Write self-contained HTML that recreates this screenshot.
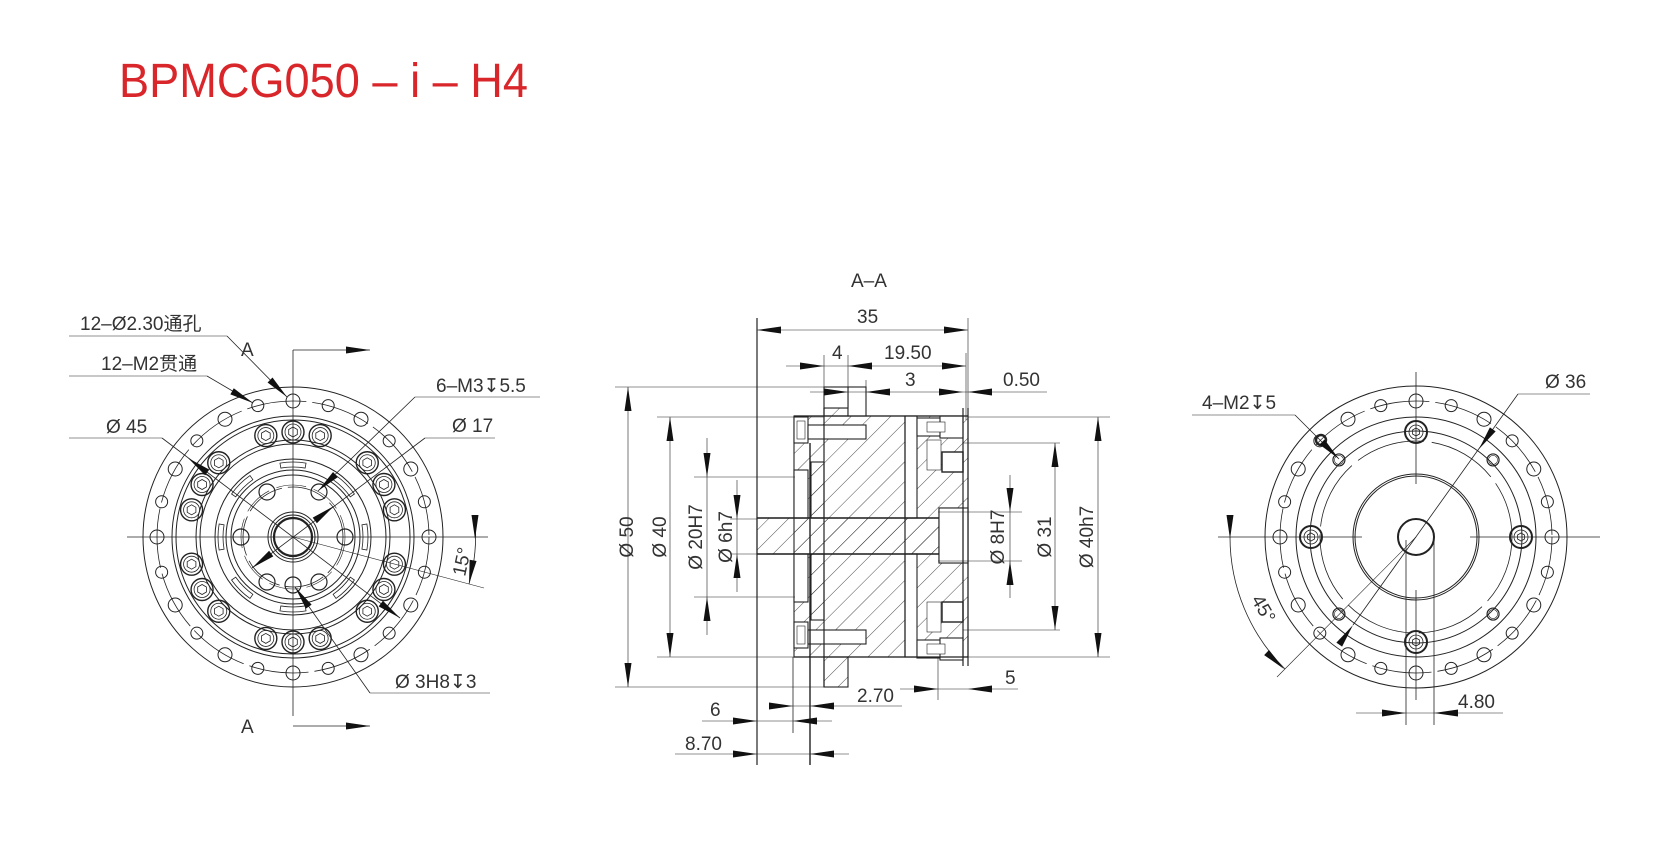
<!DOCTYPE html>
<html><head><meta charset="utf-8"><style>
html,body{margin:0;padding:0;background:#fff}
svg{display:block}
text{font-family:"Liberation Sans Narrow","Liberation Sans","Noto Sans CJK SC",sans-serif;fill:#333}
</style></head><body>
<svg id="s" width="1658" height="858" viewBox="0 0 1658 858" xmlns="http://www.w3.org/2000/svg">
<defs>
<pattern id="h" patternUnits="userSpaceOnUse" width="14" height="14" patternTransform="rotate(45)">
<line x1="0" y1="0" x2="0" y2="14" stroke="#222" stroke-width="0.8"/>
</pattern>
</defs>
<text x="119" y="97" font-size="48" textLength="409" lengthAdjust="spacingAndGlyphs" style="fill:#d9262b;font-family:'Liberation Sans',sans-serif">BPMCG050 – i – H4</text>
<g id="g" fill="none" stroke="#222" stroke-width="1"></g>
<g font-size="19">
<text x="851" y="287">A–A</text>
<text x="857" y="323">35</text>
<text x="832" y="359">4</text>
<text x="884" y="359">19.50</text>
<text x="905" y="386">3</text>
<text x="1003" y="386">0.50</text>
<text x="1005" y="684">5</text>
<text x="857" y="702">2.70</text>
<text x="710" y="716">6</text>
<text x="685" y="750">8.70</text>
<text transform="translate(633,537) rotate(-90)" text-anchor="middle">Ø 50</text>
<text transform="translate(666,537) rotate(-90)" text-anchor="middle">Ø 40</text>
<text transform="translate(702,537) rotate(-90)" text-anchor="middle">Ø 20H7</text>
<text transform="translate(732,537) rotate(-90)" text-anchor="middle">Ø 6h7</text>
<text transform="translate(1004,537) rotate(-90)" text-anchor="middle">Ø 8H7</text>
<text transform="translate(1051,537) rotate(-90)" text-anchor="middle">Ø 31</text>
<text transform="translate(1093,537) rotate(-90)" text-anchor="middle">Ø 40h7</text>
<text x="80" y="330">12–Ø2.30通孔</text>
<text x="101" y="370">12–M2贯通</text>
<text x="106" y="433">Ø 45</text>
<text x="436" y="392">6–M3↧5.5</text>
<text x="452" y="432">Ø 17</text>
<text x="395" y="688">Ø 3H8↧3</text>
<text x="241" y="356">A</text>
<text x="241" y="733">A</text>
<text transform="translate(468,563) rotate(-78)" text-anchor="middle">15°</text>
<text x="1202" y="409">4–M2↧5</text>
<text x="1545" y="388">Ø 36</text>
<text x="1458" y="708">4.80</text>
<text transform="translate(1258,612) rotate(60)" text-anchor="middle">45°</text>
</g>
</svg>
<script>
var o='';
function L(a,b,c,d,w,dash){o+='<line x1="'+a+'" y1="'+b+'" x2="'+c+'" y2="'+d+'"'+(w?' stroke-width="'+w+'"':'')+(dash?' stroke-dasharray="'+dash+'"':'')+'/>';}
function C(x,y,r,w,dash){o+='<circle cx="'+x+'" cy="'+y+'" r="'+r+'"'+(w?' stroke-width="'+w+'"':'')+(dash?' stroke-dasharray="'+dash+'"':'')+'/>';}
function A(tx,ty,fx,fy){var dx=tx-fx,dy=ty-fy,l=Math.hypot(dx,dy),ux=dx/l,uy=dy/l,len=24,w=3.5;var bx=tx-ux*len,by=ty-uy*len;
o+='<polygon fill="#111" stroke="none" points="'+tx+','+ty+' '+(bx-uy*w)+','+(by+ux*w)+' '+(bx+uy*w)+','+(by-ux*w)+'"/>';}
function R(x,y,w,h,f,sw){o+='<rect x="'+x+'" y="'+y+'" width="'+w+'" height="'+h+'"'+(f?' fill="'+f+'"':'')+(sw?' stroke-width="'+sw+'"':'')+'/>';}
function P(d,f,sw){o+='<path d="'+d+'"'+(f?' fill="'+f+'"':'')+(sw?' stroke-width="'+sw+'"':'')+'/>';}
function hex(x,y,r){var p=[];for(var i=0;i<6;i++){var a=Math.PI/6+i*Math.PI/3;p.push((x+r*Math.cos(a)).toFixed(1)+','+(y+r*Math.sin(a)).toFixed(1));}o+='<polygon points="'+p.join(' ')+'" stroke-width="0.8"/>';}
function pol(cx,cy,r,deg){var a=deg*Math.PI/180;return [cx+r*Math.sin(a),cy-r*Math.cos(a)];}
/* ---------- LEFT VIEW ---------- */
var X=293,Y=537;
L(127,Y,488,Y,0.8);L(X,350,X,716,0.8);
C(X,Y,150);C(X,Y,136,0.8,'60 6');C(X,Y,121);C(X,Y,117);C(X,Y,97);C(X,Y,93);
C(X,Y,78);C(X,Y,67);C(X,Y,62);C(X,Y,50,0.8,'40 6');C(X,Y,52,0.6,'30 8');
for(var i=0;i<24;i++){var p=pol(X,Y,136,i*15);C(p[0],p[1],i%2?6:7,1);}
for(var i=0;i<24;i++){if(i%4==2)continue;var p=pol(X,Y,105,i*15);C(p[0],p[1],11,1.4);C(p[0],p[1],8,0.8);hex(p[0],p[1],5);}
for(var i=0;i<8;i++){var a1=(i*45-10)*Math.PI/180,a2=(i*45+10)*Math.PI/180,r1=70,r2=75;
P('M'+(X+r1*Math.sin(a1))+' '+(Y-r1*Math.cos(a1))+' A'+r1+' '+r1+' 0 0 1 '+(X+r1*Math.sin(a2))+' '+(Y-r1*Math.cos(a2))+' L'+(X+r2*Math.sin(a2))+' '+(Y-r2*Math.cos(a2))+' A'+r2+' '+r2+' 0 0 0 '+(X+r2*Math.sin(a1))+' '+(Y-r2*Math.cos(a1))+'Z','',0.8);}
[30,90,150,210,270,330].forEach(function(d){var p=pol(X,Y,52,d);C(p[0],p[1],8,1.2);});
C(X,585,8,1.2);
C(X,Y,25);C(X,Y,22);C(X,Y,19,2.2);
/* section arrows */
L(X,350,370,350,0.8);A(370,350,332,350);L(X,726,370,726,0.8);A(370,726,332,726);
/* leaders */
L(69,336,227,336,0.6);L(227,336,287,397,0.8);A(287,397,262,372);
L(69,376,207,376,0.6);L(207,376,253,403,0.8);A(253,403,228,389);
L(69,438,162,438,0.6);L(162,438,400,618,0.8);A(188,458,208,473);A(400,618,380,603);
L(415,397,540,397,0.6);L(415,397,318,491,0.8);A(318,491,336,474);
L(425,438,495,438,0.6);L(425,438,252,568,0.8);A(334,506,314,521);A(252,568,272,553);
L(370,693,490,693,0.6);L(370,693,295,587,0.8);A(295,587,309,607);
P('M475 520 A182 182 0 0 1 469 584',0,0.8);A(475,539,475,515);A(469,584,473,561);L(X,Y,484,588,0.6);
/* ---------- SECTION VIEW ---------- */
o+='<g stroke-width="1.1">';
R(794,416,174,241,'url(#h)');R(824,408,24,8,'url(#h)');R(824,657,24,30,'url(#h)');R(757,518,182,36,'url(#h)');
R(848,387,18,29,'#fff');R(824,387,24,21,'#fff');
R(905,416,12,102,'#fff');R(905,554,12,103,'#fff');
R(794,470,14,48,'#fff');R(794,554,14,48,'#fff');
R(811,462,13,56,'url(#h)');R(811,554,13,66,'url(#h)');
R(939,508,29,55,'#fff');R(939,508,24,55,'#fff');
/* bolts */
[425,630].forEach(function(y){R(794,y-8,14,26,'#fff');R(808,y,58,14,'#fff');R(797,y-4,8,18,'#fff',0.6);});
[418,640].forEach(function(y){R(917,y,35,18,'#fff');R(940,y-2,23,22,'#fff');R(927,y+4,18,10,'#fff',0.6);});
R(942,452,21,20,'#fff',1.4);R(942,602,21,20,'#fff',1.4);R(927,440,14,30,'#fff',0.6);R(927,602,14,30,'#fff',0.6);
o+='</g>';
L(794,416,968,416,1.2);L(794,657,968,657,1.2);L(963,408,963,666,1.2);L(968,408,968,666,1.2);
L(757,518,939,518,1.6);L(757,554,939,554,1.6);L(824,408,824,687,1.2);L(905,416,905,657,1.2);L(810,443,810,765,1.4);
/* dims */
L(757,318,757,765,1.2);L(968,318,968,420,0.6);L(757,330,968,330,0.6);A(757,330,782,330);A(968,330,943,330);
L(824,355,824,416,0.6);L(848,355,848,387,0.6);L(786,366,966,366,0.6);A(824,366,800,366);A(848,366,873,366);A(966,366,942,366);
L(966,353,966,420,0.6);L(866,380,866,416,0.6);L(810,392,1047,392,0.6);A(848,392,824,392);A(866,392,890,392);A(963,392,939,392);A(968,392,992,392);
L(615,387,848,387,0.6);L(615,687,848,687,0.6);L(628,387,628,687,0.6);A(628,387,628,411);A(628,687,628,663);
L(657,417,824,417,0.6);L(657,657,824,657,0.6);L(670,417,670,657,0.6);A(670,417,670,441);A(670,657,670,633);
L(694,477,795,477,0.6);L(694,597,795,597,0.6);L(707,438,707,635,0.6);A(707,477,707,453);A(707,597,707,621);
L(730,519,757,519,0.6);L(730,554,757,554,0.6);L(737,480,737,592,0.6);A(737,519,737,495);A(737,554,737,578);
L(938,512,1022,512,0.6);L(938,561,1022,561,0.6);L(1010,475,1010,598,0.6);A(1010,512,1010,488);A(1010,561,1010,585);
L(963,443,1060,443,0.6);L(963,630,1060,630,0.6);L(1055,443,1055,630,0.6);A(1055,443,1055,467);A(1055,630,1055,606);
L(968,417,1110,417,0.6);L(968,657,1110,657,0.6);L(1098,417,1098,657,0.6);A(1098,417,1098,441);A(1098,657,1098,633);
L(938,657,938,700,0.6);L(900,689,1018,689,0.6);A(938,689,914,689);A(968,689,992,689);
L(769,706,902,706,0.6);A(793,706,769,706);A(810,706,834,706);L(793,657,793,733,0.8);
L(702,721,832,721,0.6);A(757,721,733,721);A(793,721,817,721);
L(675,754,849,754,0.6);A(757,754,733,754);A(810,754,834,754);
/* ---------- RIGHT VIEW ---------- */
var X2=1416;
L(1218,Y,1362,Y,0.8);L(1470,Y,1600,Y,0.8);L(X2,372,X2,484,0.8);L(X2,590,X2,700,0.8);
C(X2,Y,151);C(X2,Y,136,0.8,'60 6');C(X2,Y,120);C(X2,Y,106);C(X2,Y,96,0.8,'70 8');C(X2,Y,63);C(X2,Y,61);C(X2,Y,18,2);
for(var i=0;i<24;i++){var p=pol(X2,Y,136,i*15);C(p[0],p[1],i%2?6:7,1);}
[0,90,180,270].forEach(function(d){var p=pol(X2,Y,105,d);C(p[0],p[1],11,2);C(p[0],p[1],7,0.8);hex(p[0],p[1],4);});
[45,135,225,315].forEach(function(d){var p=pol(X2,Y,109,d);C(p[0],p[1],6,1.2);C(p[0],p[1],4.5,0.6);});
var bl=pol(X2,Y,109,315);C(1321,440,5,2.4);
L(1192,415,1295,415,0.6);L(1295,415,1339,459,0.8);A(1339,459,1320,440);
L(1518,394,1590,394,0.6);L(1518,394,1353,625,0.8);A(1479,449,1493,429);A(1353,625,1339,645);
L(X2,Y,1277,677,0.6);P('M1230 537 A186 186 0 0 0 1285 669',0,0.8);A(1230,539,1230,515);A(1284,669,1266,652);
L(1406,540,1406,725,0.8);L(1434,540,1434,725,0.8);L(1356,713,1503,713,0.6);A(1406,713,1382,713);A(1434,713,1458,713);
document.getElementById('g').innerHTML=o;
</script>
</body></html>
